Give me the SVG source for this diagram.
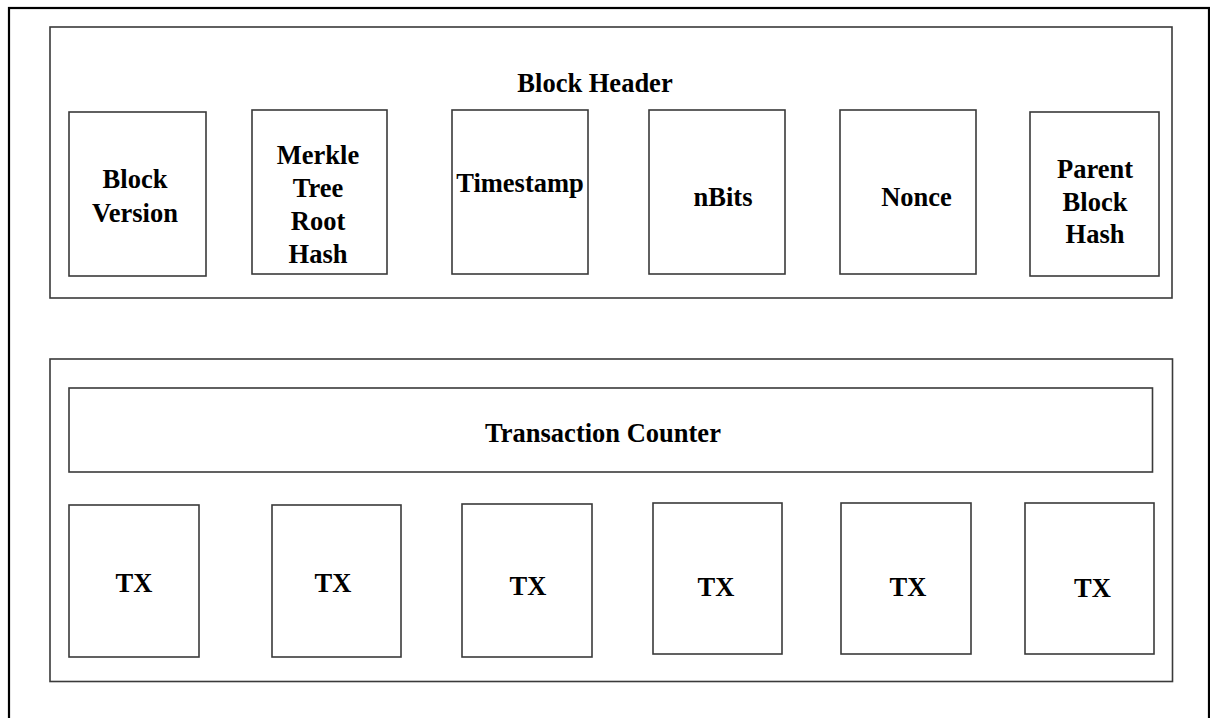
<svg xmlns="http://www.w3.org/2000/svg" width="1210" height="718" viewBox="0 0 1210 718">
<style>
.frame{fill:none;stroke:#000;stroke-width:2.2}
.box{fill:#fff;stroke:#3a3a3a;stroke-width:1.6}
.t{font-family:"Liberation Serif","Times New Roman",serif;font-weight:bold;font-size:26.5px;fill:#000;text-anchor:middle}
</style>
<rect width="1210" height="718" fill="#fff"/>
<rect class="frame" x="9" y="8" width="1200" height="730"/>
<g id="block-header">
<rect class="box" x="50" y="27" width="1122" height="271"/>
<text class="t" x="595" y="92">Block Header</text>
</g>
<g id="block-version">
<rect class="box" x="69" y="112" width="137" height="164"/>
<text class="t" x="135" y="188">Block</text>
<text class="t" x="135" y="222">Version</text>
</g>
<g id="merkle-root">
<rect class="box" x="252" y="110" width="135" height="164"/>
<text class="t" x="318" y="164">Merkle</text>
<text class="t" x="318" y="197">Tree</text>
<text class="t" x="318" y="230">Root</text>
<text class="t" x="318" y="263">Hash</text>
</g>
<g id="timestamp">
<rect class="box" x="452" y="110" width="136" height="164"/>
<text class="t" x="520" y="192">Timestamp</text>
</g>
<g id="nbits">
<rect class="box" x="649" y="110" width="136" height="164"/>
<text class="t" x="723" y="206">nBits</text>
</g>
<g id="nonce">
<rect class="box" x="840" y="110" width="136" height="164"/>
<text class="t" x="916.5" y="206">Nonce</text>
</g>
<g id="parent-hash">
<rect class="box" x="1030" y="112" width="129" height="164"/>
<text class="t" x="1095" y="178">Parent</text>
<text class="t" x="1095" y="211">Block</text>
<text class="t" x="1095" y="243">Hash</text>
</g>
<g id="transactions">
<rect class="box" x="50" y="359" width="1122.5" height="322.5"/>
</g>
<g id="tx-counter">
<rect class="box" x="69" y="388" width="1083.5" height="84"/>
<text class="t" x="603" y="442">Transaction Counter</text>
</g>
<g id="tx1">
<rect class="box" x="69" y="505" width="130" height="152"/>
<text class="t" x="134" y="592">TX</text>
</g>
<g id="tx2">
<rect class="box" x="272" y="505" width="129" height="152"/>
<text class="t" x="333" y="592">TX</text>
</g>
<g id="tx3">
<rect class="box" x="462" y="504" width="130" height="153"/>
<text class="t" x="528" y="595">TX</text>
</g>
<g id="tx4">
<rect class="box" x="653" y="503" width="129" height="151"/>
<text class="t" x="716" y="596">TX</text>
</g>
<g id="tx5">
<rect class="box" x="841" y="503" width="130" height="151"/>
<text class="t" x="908" y="596">TX</text>
</g>
<g id="tx6">
<rect class="box" x="1025" y="503" width="129" height="151"/>
<text class="t" x="1092.5" y="597">TX</text>
</g>
<g id="connectors"/>
</svg>
